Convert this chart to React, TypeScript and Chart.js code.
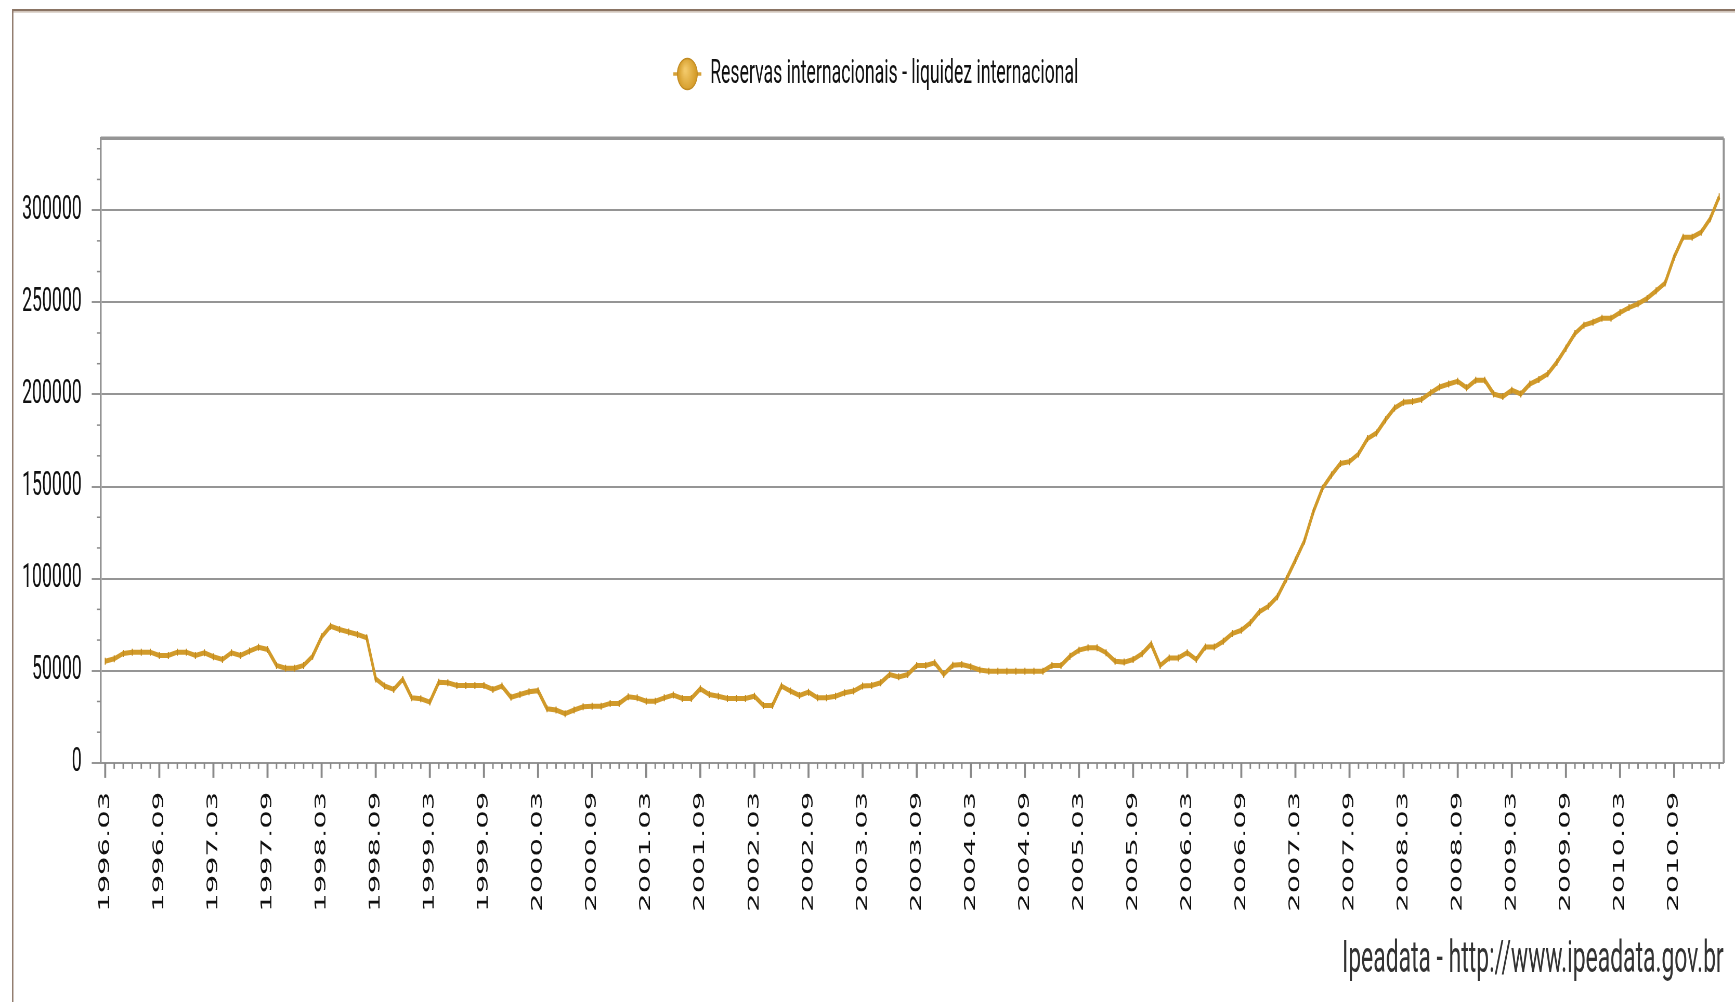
import { useEffect, useRef } from 'react';
import { Chart, registerables } from 'chart.js';

Chart.register(...registerables);

// ---------------- data ----------------
const START_YEAR = 1996;
const START_MONTH = 3;

// Reservas internacionais - liquidez internacional (US$ milhões), monthly 1996.03 .. 2011.02
const reservas: number[] = [
  55200, 56500, 59400, 60100, 60100, 60100, 58300, 58300, 60100, 60100,
  58300, 59800, 57600, 56100, 59800, 58300, 60700, 62800, 61600, 52900,
  51400, 51400, 52900, 57900, 68400, 74200, 72400, 71000, 69700, 67900,
  45600, 41700, 39900, 45300, 35300, 34800, 33000, 43800, 43500, 42000,
  42000, 42000, 42000, 39900, 41700, 35600, 37100, 38600, 39200, 29400,
  28700, 26700, 28700, 30500, 30800, 30800, 32300, 32300, 35900, 35300,
  33500, 33500, 35300, 36800, 35000, 35000, 40200, 37100, 36200, 35000,
  35000, 35000, 36200, 31200, 31200, 41700, 39000, 36600, 38400, 35300,
  35300, 36200, 38100, 39000, 41700, 42000, 43500, 48000, 46700, 48000,
  52900, 52900, 54300, 48000, 53000, 53400, 52200, 50400, 49800, 49800,
  49800, 49800, 49800, 49800, 49800, 52900, 52900, 57900, 61200, 62500,
  62500, 59800, 55200, 54700, 56100, 59300, 64500, 52900, 57000, 57000,
  59800, 56100, 62900, 62900, 66000, 70200, 72000, 76000, 82000, 85000,
  90200, 99800, 110000, 120500, 136500, 149000, 156200, 162500, 163500, 167700,
  176000, 179100, 186300, 192600, 195700, 196100, 197300, 200900, 204000, 205600,
  207100, 203600, 207700, 207700, 200200, 198800, 202300, 200200, 205600, 208100,
  211200, 217500, 225100, 233000, 237600, 239200, 241300, 241300, 244400, 247100,
  249200, 252100, 256200, 260400, 274500, 285300, 285300, 288000, 295300, 307300,
];

const categories: string[] = reservas.map((_, i) => {
  const m = START_MONTH - 1 + i;
  const y = START_YEAR + Math.floor(m / 12);
  const mm = (m % 12) + 1;
  return `${y}.${String(mm).padStart(2, '0')}`;
});

const LABEL_EVERY = 6;
const yTickValues: number[] = [0, 50000, 100000, 150000, 200000, 250000, 300000];
const Y_MAX = 339000;
const Y_MINOR_PER_MAJOR = 3;
const seriesLabel = 'Reservas internacionais - liquidez internacional';
const footerText = 'Ipeadata - http://www.ipeadata.gov.br';

// ---------------- geometry (the reference is horizontally condensed) ----------------
const DISPLAY_W = 1735;
const DISPLAY_H = 1002;
const CANVAS_W = 3337;
const SX = DISPLAY_W / CANVAS_W;
const ix = (d: number) => d / SX;

const PAD_LEFT = 4; // display px
const PLOT_LEFT = 100.7; // display px
const PAD_RIGHT = 11.3; // display px
const LEGEND_DX = ix(12); // shift of legend to match reference centre

const LINE_COLOR = '#D19A2A';
const GRAY = '#959595';
const TICK_GRAY = '#8A8A8A';

function makeMarker(): HTMLCanvasElement {
  const c = document.createElement('canvas');
  c.width = Math.round(ix(28));
  c.height = 34;
  const g = c.getContext('2d')!;
  const cx = c.width / 2;
  const cy = c.height / 2;
  g.strokeStyle = '#D6A23A';
  g.lineWidth = 3.5;
  g.beginPath();
  g.moveTo(0, cy);
  g.lineTo(c.width, cy);
  g.stroke();
  const grad = g.createRadialGradient(cx - 4, cy - 4, 2, cx, cy, 18);
  grad.addColorStop(0, '#F2C868');
  grad.addColorStop(1, '#D39A27');
  g.fillStyle = grad;
  g.beginPath();
  g.ellipse(cx, cy, ix(10), 15.5, 0, 0, Math.PI * 2);
  g.fill();
  g.strokeStyle = '#C08A22';
  g.lineWidth = 1.5;
  g.stroke();
  return c;
}

const framePlugin = {
  id: 'frameAndMinorTicks',
  beforeLayout(chart: any) {
    const lg = chart.legend;
    if (lg && !lg.__spaced) {
      const origFit = lg.fit.bind(lg);
      lg.fit = function () {
        origFit();
        this.height += 37.3;
      };
      const origDraw = lg.draw.bind(lg);
      lg.draw = function (area: any) {
        const c = this.ctx;
        c.save();
        c.translate(LEGEND_DX, 0);
        origDraw(area);
        c.restore();
      };
      lg.__spaced = true;
    }
  },
  beforeDraw(chart: any) {
    const { ctx, width, height } = chart;
    ctx.save();
    ctx.fillStyle = '#ffffff';
    ctx.fillRect(0, 0, width, height);
    // outer brown frame (top and left)
    ctx.fillStyle = '#8A7464';
    ctx.fillRect(ix(12), 9, width, 2.2);
    ctx.fillStyle = '#CBBDB2';
    ctx.fillRect(ix(12), 11.2, width, 1.4);
    ctx.fillStyle = '#8F7A6C';
    ctx.fillRect(ix(12), 9, ix(1.4), height);
    ctx.restore();
  },
  afterDraw(chart: any) {
    const { ctx, chartArea: a, scales } = chart;
    const xs = scales.x;
    const ys = scales.y;
    ctx.save();
    ctx.strokeStyle = GRAY;
    // plot frame top and right
    ctx.lineWidth = 3.5;
    ctx.beginPath();
    ctx.moveTo(a.left, a.top);
    ctx.lineTo(a.right, a.top);
    ctx.stroke();
    ctx.lineWidth = ix(2);
    ctx.beginPath();
    ctx.moveTo(a.right, a.top);
    ctx.lineTo(a.right, a.bottom);
    ctx.stroke();
    // minor x ticks (monthly)
    ctx.strokeStyle = TICK_GRAY;
    ctx.lineWidth = ix(1.5);
    for (let i = 0; i < categories.length; i++) {
      if (i % LABEL_EVERY === 0) continue;
      const px = xs.getPixelForValue(i);
      ctx.beginPath();
      ctx.moveTo(px, a.bottom);
      ctx.lineTo(px, a.bottom + 6);
      ctx.stroke();
    }
    // major x ticks (labelled months)
    ctx.lineWidth = ix(2);
    for (let i = 0; i < categories.length; i += LABEL_EVERY) {
      const px = xs.getPixelForValue(i);
      ctx.beginPath();
      ctx.moveTo(px, a.bottom);
      ctx.lineTo(px, a.bottom + 15);
      ctx.stroke();
    }
    // minor y ticks
    ctx.lineWidth = 1.5;
    const step = (yTickValues[1] - yTickValues[0]) / Y_MINOR_PER_MAJOR;
    for (let k = 1; k * step < Y_MAX; k++) {
      if (k % Y_MINOR_PER_MAJOR === 0) continue;
      const py = ys.getPixelForValue(k * step);
      ctx.beginPath();
      ctx.moveTo(a.left - ix(4), py);
      ctx.lineTo(a.left, py);
      ctx.stroke();
    }
    ctx.restore();
  },
};

export default function App() {
  const ref = useRef<HTMLCanvasElement | null>(null);

  useEffect(() => {
    if (!ref.current) return;
    const marker = makeMarker();
    const chart = new Chart(ref.current, {
      type: 'line',
      data: {
        labels: categories,
        datasets: [
          {
            label: seriesLabel,
            data: reservas,
            borderColor: LINE_COLOR,
            backgroundColor: LINE_COLOR,
            borderWidth: 5,
            tension: 0,
            fill: false,
            pointStyle: 'line',
            pointRotation: 90,
            pointRadius: 3.5,
            pointBorderWidth: 2,
            pointBorderColor: '#C38B1F',
            pointHoverRadius: 3.5,
          },
        ],
      },
      options: {
        responsive: false,
        devicePixelRatio: 1,
        animation: false,
        events: [],
        layout: { padding: { left: ix(PAD_LEFT), right: ix(PAD_RIGHT), top: 47, bottom: 4 } },
        plugins: {
          tooltip: { enabled: false },
          legend: {
            display: true,
            position: 'top',
            align: 'center',
            labels: {
              usePointStyle: true,
              pointStyle: marker as any,
              pointStyleWidth: ix(28),
              padding: 10,
              color: '#111111',
              font: { family: 'Roboto', size: 34 },
              generateLabels: (ch: any) =>
                (Chart.defaults.plugins.legend.labels.generateLabels as any)(ch).map((l: any) => ({
                  ...l,
                  rotation: 0,
                  pointStyle: marker,
                })),
            },
          },
          title: {
            display: true,
            position: 'bottom',
            align: 'end',
            text: footerText,
            color: '#333333',
            font: { family: 'Roboto', size: 44, weight: 'normal', lineHeight: 1.2 },
            padding: { top: 23.1, bottom: 10.2 },
          },
        },
        scales: {
          x: {
            type: 'category',
            offset: true,
            afterFit: (scale: any) => {
              scale.height = 149;
            },
            grid: {
              drawOnChartArea: false,
              drawTicks: true,
              tickLength: 15,
              tickWidth: ix(2),
              tickColor: 'rgba(0,0,0,0)',
            },
            border: { display: true, color: GRAY, width: 2 },
            ticks: {
              autoSkip: false,
              minRotation: 90,
              maxRotation: 90,
              padding: 14,
              color: '#111111',
              font: { family: 'DejaVu Sans', size: 29 },
              callback: (_v: any, i: number) => (i % LABEL_EVERY === 0 ? categories[i] : null),
            },
          },
          y: {
            type: 'linear',
            min: 0,
            max: Y_MAX,
            afterFit: (scale: any) => {
              scale.width = ix(PLOT_LEFT - PAD_LEFT);
            },
            afterBuildTicks: (scale: any) => {
              scale.ticks = yTickValues.map((v) => ({ value: v }));
            },
            grid: {
              color: GRAY,
              lineWidth: 2,
              drawTicks: true,
              tickLength: ix(9),
              tickColor: GRAY,
            },
            border: { display: true, color: GRAY, width: ix(1.8) },
            ticks: {
              padding: ix(10),
              color: '#111111',
              font: { family: 'Roboto', size: 34 },
              callback: (v: any) => String(v),
            },
          },
        },
      },
      plugins: [framePlugin],
    } as any);
    return () => chart.destroy();
  }, []);

  return (
    <div style={{ position: 'absolute', left: 0, top: 0, width: DISPLAY_W, height: DISPLAY_H, background: '#fff' }}>
      <canvas
        ref={ref}
        width={CANVAS_W}
        height={DISPLAY_H}
        style={{ width: `${DISPLAY_W}px`, height: `${DISPLAY_H}px`, display: 'block' }}
      />
    </div>
  );
}
